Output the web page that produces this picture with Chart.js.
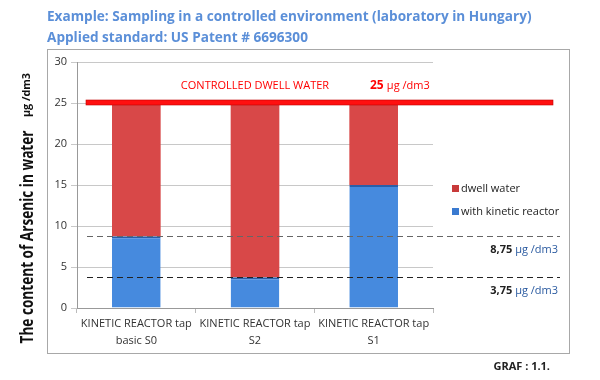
<!DOCTYPE html>
<html>
<head>
<meta charset="utf-8">
<script src="https://cdn.jsdelivr.net/npm/chart.js@4"></script>
<style>
  html, body { margin: 0; padding: 0; background: #fff; }
  canvas { display: block; }
</style>
</head>
<body>
<canvas id="graf" width="600" height="380"></canvas>
<script>
// データ
const categories = [['KINETIC REACTOR tap', 'basic S0'], ['KINETIC REACTOR tap', 'S2'], ['KINETIC REACTOR tap', 'S1']];
const reactorValues = [8.75, 3.75, 15];
const dwellValues = [16.25, 21.25, 10];
const seriesNames = ['dwell water', 'with kinetic reactor'];
const yTicks = [0, 5, 10, 15, 20, 25, 30];
const limitValue = 25;
const limitLabel = 'CONTROLLED DWELL WATER';
const thresholds = [8.75, 3.75];
const thresholdLabels = ['8,75', '3,75'];

const FONT = '"Open Sans", "Liberation Sans", sans-serif';
const BLUE_TITLE = '#5b8fd8';

// 横方向のグラデーション（立体風）
function barGradient(ctx, c1, c2) {
    const chart = ctx.chart;
    const meta = chart.getDatasetMeta(ctx.datasetIndex);
    const el = meta && meta.data[ctx.dataIndex];
    if (!chart.chartArea || !el || !isFinite(el.x) || !el.width) return c1;
    const g = chart.ctx.createLinearGradient(el.x - el.width / 2, 0, el.x + el.width / 2, 0);
    g.addColorStop(0, c2);
    g.addColorStop(0.4, c1);
    g.addColorStop(1, c2);
    return g;
}

// 幅を合わせてテキストを描く
function fitText(c, text, cx, cy, width) {
    const w = c.measureText(text).width;
    c.save();
    c.translate(cx, cy);
    c.scale(width / w, 1);
    c.fillText(text, 0, 0);
    c.restore();
}

// 枠、タイトル、基準線などを描くプラグイン
const decorPlugin = {
    id: 'decor',
    beforeDraw(chart) {
        const c = chart.ctx;
        c.save();
        c.fillStyle = '#fff';
        c.fillRect(0, 0, chart.width, chart.height);
        c.strokeStyle = '#a8a8a8';
        c.lineWidth = 1;
        c.strokeRect(47.5, 49.5, 522, 304);
        // タイトル
        c.fillStyle = BLUE_TITLE;
        c.font = 'bold 13.6px ' + FONT;
        c.textBaseline = 'middle';
        c.fillText('Example: Sampling in a controlled environment (laboratory in Hungary)', 47, 17);
        c.fillText('Applied standard: US Patent # 6696300', 47, 38);
        // y軸タイトル
        c.save();
        c.translate(28, 0);
        c.rotate(-Math.PI / 2);
        c.fillStyle = '#111';
        c.textAlign = 'center';
        c.font = 'bold 17px ' + FONT;
        fitText(c, 'The content of Arsenic in water', -237, 0, 213);
        c.font = 'bold 11px ' + FONT;
        fitText(c, '\u00b5g /dm3', -95, -1, 44);
        c.restore();
        // GRAF
        c.fillStyle = '#222';
        c.font = 'bold 11px ' + FONT;
        c.textAlign = 'right';
        c.fillText('GRAF : 1.1.', 550, 367);
        c.restore();
    },
    afterDatasetsDraw(chart) {
        const c = chart.ctx;
        const y = chart.scales.y;
        c.save();
        // 基準線
        const yl = y.getPixelForValue(limitValue);
        c.fillStyle = '#ff1010';
        c.fillRect(86, yl - 3, 467, 5);
        c.strokeStyle = '#c00000';
        c.lineWidth = 0.6;
        c.strokeRect(86, yl - 3, 467, 5);
        c.font = '11px ' + FONT;
        c.textBaseline = 'middle';
        c.fillStyle = '#ff0000';
        c.textAlign = 'center';
        c.fillText(limitLabel, 255, 86);
        c.textAlign = 'left';
        c.font = 'bold 12px ' + FONT;
        c.fillText(String(limitValue), 370, 86);
        c.font = '11px ' + FONT;
        c.fillText(' \u00b5g /dm3', 384, 86);
        // 点線
        c.setLineDash([6, 4]);
        c.lineWidth = 1;
        thresholds.forEach((v, i) => {
            const py = Math.round(y.getPixelForValue(v)) + 0.5;
            c.strokeStyle = i === 0 ? '#666' : '#222';
            c.beginPath();
            c.moveTo(87, py);
            c.lineTo(560, py);
            c.stroke();
            c.textAlign = 'right';
            c.font = '11px ' + FONT;
            c.fillStyle = '#2a5aa0';
            const unit = ' \u00b5g /dm3';
            const uw = c.measureText(unit).width;
            c.fillText(unit, 558, py + 13);
            c.font = 'bold 11px ' + FONT;
            c.fillStyle = '#222';
            c.fillText(thresholdLabels[i], 558 - uw, py + 13);
        });
        c.setLineDash([]);
        // 凡例
        const legend = [
            { text: seriesNames[0], color: '#c83a3a' },
            { text: seriesNames[1], color: '#3a7ad0' }
        ];
        legend.forEach((it, i) => {
            const ly = 189 + i * 23;
            c.fillStyle = it.color;
            c.fillRect(452, ly - 4, 7, 7);
            c.fillStyle = '#222';
            c.font = '11px ' + FONT;
            c.textAlign = 'left';
            c.fillText(it.text, 461, ly);
        });
        c.restore();
    }
};

new Chart(document.getElementById('graf').getContext('2d'), {
    type: 'bar',
    data: {
        labels: categories,
        datasets: [{
            label: seriesNames[1],
            data: reactorValues,
            backgroundColor: ctx => barGradient(ctx, '#468ade', '#2d64b2'),
            borderColor: '#2a5ea8',
            borderWidth: { top: 2, left: 0, right: 0, bottom: 0 },
            borderSkipped: false,
            categoryPercentage: 1,
            barPercentage: 0.41
        }, {
            label: seriesNames[0],
            data: dwellValues,
            backgroundColor: ctx => barGradient(ctx, '#d84848', '#ae2c2c'),
            borderWidth: 0,
            categoryPercentage: 1,
            barPercentage: 0.41
        }]
    },
    options: {
        responsive: false,
        animation: false,
        layout: { padding: { top: 62, right: 167, bottom: 27, left: 0 } },
        plugins: {
            legend: { display: false },
            tooltip: { enabled: false }
        },
        scales: {
            x: {
                stacked: true,
                afterFit: s => { s.height = 45; },
                grid: { drawOnChartArea: false, color: '#bbb', tickLength: 5, offset: true },
                border: { color: '#999' },
                ticks: { color: '#333', font: { family: FONT, size: 11, lineHeight: 1.5 }, maxRotation: 0, padding: 3 }
            },
            y: {
                stacked: true,
                min: 0,
                max: 30,
                afterFit: s => { s.width = 77; },
                afterBuildTicks: s => { s.ticks = yTicks.map(v => ({ value: v })); },
                grid: { color: '#c8c8c8', tickLength: 6 },
                border: { color: '#999' },
                ticks: { color: '#333', font: { family: FONT, size: 11 }, padding: 4 }
            }
        }
    },
    plugins: [decorPlugin]
});
</script>
</body>
</html>
